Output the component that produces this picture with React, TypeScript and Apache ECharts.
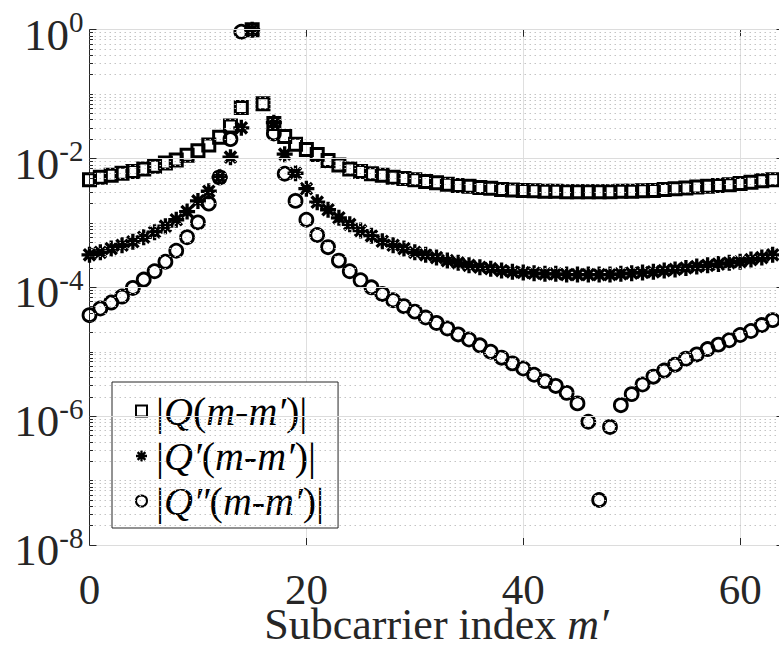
import React, { useEffect, useRef } from "react";
import * as echarts from "echarts";

const subcarrier = [
  0, 1, 2, 3, 4, 5, 6, 7, 8, 9, 10, 11, 12, 13, 14, 15, 16, 17, 18, 19, 20, 21,
  22, 23, 24, 25, 26, 27, 28, 29, 30, 31, 32, 33, 34, 35, 36, 37, 38, 39, 40,
  41, 42, 43, 44, 45, 46, 47, 48, 49, 50, 51, 52, 53, 54, 55, 56, 57, 58, 59,
  60, 61, 62, 63,
];

const qAbs = [
  4.7e-3, 5.1e-3, 5.5e-3, 5.9e-3, 6.3e-3, 6.9e-3, 7.6e-3, 8.5e-3, 9.5e-3, 1.12e-2,
  1.32e-2, 1.62e-2, 2.14e-2, 3.2e-2, 6.2e-2, 1.0, 7.1e-2, 3.5e-2, 2.2e-2, 1.66e-2,
  1.38e-2, 1.15e-2, 9.3e-3, 7.9e-3, 6.9e-3, 6.3e-3, 5.8e-3, 5.5e-3, 5.1e-3, 4.9e-3,
  4.7e-3, 4.4e-3, 4.2e-3, 4.0e-3, 3.8e-3, 3.7e-3, 3.55e-3, 3.45e-3, 3.3e-3, 3.25e-3,
  3.2e-3, 3.15e-3, 3.1e-3, 3.1e-3, 3.05e-3, 3.05e-3, 3.05e-3, 3.05e-3, 3.05e-3, 3.1e-3,
  3.1e-3, 3.15e-3, 3.2e-3, 3.3e-3, 3.4e-3, 3.5e-3, 3.6e-3, 3.7e-3, 3.8e-3, 3.9e-3,
  4.1e-3, 4.3e-3, 4.5e-3, 4.7e-3,
];

const q1Abs = [
  3.2e-4, 3.5e-4, 4.0e-4, 4.5e-4, 5.1e-4, 6.0e-4, 7.2e-4, 8.9e-4, 1.12e-3, 1.5e-3,
  2.2e-3, 3.1e-3, 5.1e-3, 1.05e-2, 3.0e-2, 1.0, null, 3.6e-2, 1.17e-2, 5.9e-3,
  3.4e-3, 2.1e-3, 1.6e-3, 1.2e-3, 9.5e-4, 7.6e-4, 6.3e-4, 5.2e-4, 4.5e-4, 4.0e-4,
  3.5e-4, 3.2e-4, 2.9e-4, 2.6e-4, 2.4e-4, 2.2e-4, 2.05e-4, 1.95e-4, 1.82e-4, 1.74e-4,
  1.7e-4, 1.66e-4, 1.62e-4, 1.62e-4, 1.58e-4, 1.58e-4, 1.58e-4, 1.58e-4, 1.58e-4, 1.62e-4,
  1.66e-4, 1.7e-4, 1.74e-4, 1.82e-4, 1.9e-4, 2.0e-4, 2.1e-4, 2.2e-4, 2.3e-4, 2.4e-4,
  2.5e-4, 2.7e-4, 2.9e-4, 3.2e-4,
];

const q2Abs = [
  3.7e-5, 4.7e-5, 5.8e-5, 7.2e-5, 9.8e-5, 1.32e-4, 1.78e-4, 2.5e-4, 3.7e-4, 6.0e-4,
  1.02e-3, 2.0e-3, 5.1e-3, 2.0e-2, 0.93, null, null, 2.45e-2, 5.8e-3, 2.2e-3,
  1.12e-3, 6.5e-4, 4.2e-4, 2.6e-4, 1.78e-4, 1.29e-4, 1.0e-4, 7.9e-5, 6.3e-5, 5.1e-5,
  4.2e-5, 3.4e-5, 2.8e-5, 2.3e-5, 1.86e-5, 1.55e-5, 1.26e-5, 1.0e-5, 8.1e-6, 6.6e-6,
  5.5e-6, 4.4e-6, 3.5e-6, 2.95e-6, 2.3e-6, 1.58e-6, 8.2e-7, 5.0e-8, 6.8e-7, 1.48e-6,
  2.2e-6, 3.1e-6, 4.1e-6, 5.1e-6, 6.3e-6, 7.8e-6, 9.1e-6, 1.1e-5, 1.29e-5, 1.51e-5,
  1.82e-5, 2.1e-5, 2.6e-5, 3.1e-5,
];

const xTickLabels = [0, 20, 40, 60];
const yMajorDecades = [1, 1e-2, 1e-4, 1e-6, 1e-8];
const yOddDecades = [1e-1, 1e-3, 1e-5, 1e-7];
const yMinorMantissas = [2, 3, 4, 5, 6, 7, 8, 9];
const yMinorDecadeBases = [1e-8, 1e-7, 1e-6, 1e-5, 1e-4, 1e-3, 1e-2, 1e-1];
const seriesNames = ["|Q(m-m′)|", "|Q′(m-m′)|", "|Q″(m-m′)|"];

const FONT = "'Liberation Serif', 'Times New Roman', serif";
const TEXT = "#262626";

const STAR_PATH =
  "path://M9.5 0H14.5V24H9.5Z M0 9.5H24V14.5H0Z M5.28 1.75L22.25 18.72L18.72 22.25L1.75 5.28Z M18.72 1.75L22.25 5.28L5.28 22.25L1.75 18.72Z";

const legendRich: Record<string, string> = {
  "|Q(m-m′)|": "{p||}{i|Q}{n|(}{i|m}{n|-}{i|m′}{n|)|}",
  "|Q′(m-m′)|": "{p||}{i|Q′}{n|(}{i|m}{n|-}{i|m′}{n|)|}",
  "|Q″(m-m′)|": "{p||}{i|Q″}{n|(}{i|m}{n|-}{i|m′}{n|)|}",
};

function toPoints(values: (number | null)[]) {
  const out: [number, number][] = [];
  values.forEach((v, i) => {
    if (v != null) out.push([subcarrier[i], v]);
  });
  return out;
}

export default function App() {
  const ref = useRef<HTMLDivElement>(null);

  useEffect(() => {
    if (!ref.current) return;
    const chart = echarts.init(ref.current, undefined, { renderer: "svg" });

    const minorValues: number[] = [];
    yMinorDecadeBases.forEach((b) =>
      yMinorMantissas.forEach((m) => minorValues.push(m * b))
    );
    const dottedValues = [...minorValues, ...yOddDecades];

    const majorTickLen = 0.645;
    const minorTickLen = 0.32;
    const xMaxVal = 64;

    const tickSegments: any[] = [];
    yMajorDecades.forEach((v) => {
      tickSegments.push([{ coord: [0, v] }, { coord: [majorTickLen, v] }]);
      tickSegments.push([{ coord: [xMaxVal - majorTickLen, v] }, { coord: [xMaxVal, v] }]);
    });
    dottedValues.forEach((v) => {
      tickSegments.push([{ coord: [0, v] }, { coord: [minorTickLen, v] }]);
    });

    const markerItem = { opacity: 1 };

    const option: any = {
      animation: false,
      backgroundColor: "#ffffff",
      grid: {
        left: 89.5,
        right: 1.5,
        top: 29.7,
        bottom: 102,
        containLabel: false,
        outerBoundsMode: "none",
      },
      legend: {
        data: seriesNames,
        orient: "vertical",
        left: 112,
        top: 382,
        selectedMode: false,
        backgroundColor: "#ffffff",
        borderColor: "#262626",
        borderWidth: 1,
        borderRadius: 0,
        padding: [9, 14, 7, 23],
        itemGap: 5,
        itemWidth: 11,
        itemHeight: 11,
        formatter: (name: string) => legendRich[name] || name,
        textStyle: {
          fontFamily: FONT,
          fontSize: 40,
          lineHeight: 40,
          color: "#000",
          rich: {
            p: { fontFamily: FONT, fontSize: 40, lineHeight: 40, color: "#000", padding: [0, 0, 0, 4] },
            n: { fontFamily: FONT, fontSize: 40, lineHeight: 40, color: "#000" },
            i: { fontFamily: FONT, fontSize: 40, lineHeight: 40, color: "#000", fontStyle: "italic" },
          },
        },
      },
      xAxis: [
        {
          type: "value",
          min: 0,
          max: xMaxVal,
          interval: 20,
          position: "bottom",
          axisLine: { show: true, onZero: false, lineStyle: { color: TEXT, width: 1 } },
          axisTick: { show: true, inside: true, length: 7, lineStyle: { color: TEXT } },
          axisLabel: {
            margin: 28,
            fontFamily: FONT,
            fontSize: 43,
            lineHeight: 32,
            color: TEXT,
            showMaxLabel: false,
            formatter: (v: number) => (xTickLabels.includes(v) ? String(v) : ""),
          },
          splitLine: { show: true, lineStyle: { color: "#dfdfdf", width: 1 } },
          name: "Subcarrier index {i|m′}",
          nameLocation: "middle",
          nameGap: 61,
          nameMoveOverlap: false,
          nameTextStyle: {
            fontFamily: FONT,
            fontSize: 44,
            lineHeight: 36,
            color: TEXT,
            rich: {
              i: { fontFamily: FONT, fontSize: 44, lineHeight: 36, color: TEXT, fontStyle: "italic" },
            },
          },
        },
        {
          type: "value",
          min: 0,
          max: xMaxVal,
          interval: 20,
          position: "top",
          axisLine: { show: true, onZero: false, lineStyle: { color: TEXT, width: 1 } },
          axisTick: { show: true, inside: true, length: 7, lineStyle: { color: TEXT } },
          axisLabel: { show: false },
          splitLine: { show: false },
        },
      ],
      yAxis: [
        {
          type: "log",
          logBase: 10,
          min: 1e-8,
          max: 1,
          position: "left",
          axisLine: { show: true, onZero: false, lineStyle: { color: TEXT, width: 1 } },
          axisTick: { show: false },
          splitLine: { show: false },
          axisLabel: {
            margin: 6,
            formatter: (v: number) => {
              const e = Math.round(Math.log10(v));
              if (Math.abs(e) % 2 !== 0) return "";
              return `{b|10}{s|${e === 0 ? "0" : e}}`;
            },
            rich: {
              b: { fontFamily: FONT, fontSize: 45, lineHeight: 48, color: TEXT, padding: [10, 0, 0, 0] },
              s: { fontFamily: FONT, fontSize: 29, lineHeight: 28, color: TEXT, verticalAlign: "top", padding: [2, 0, 0, 0] },
            },
          },
        },
        {
          type: "log",
          logBase: 10,
          min: 1e-8,
          max: 1,
          position: "right",
          axisLine: { show: true, onZero: false, lineStyle: { color: TEXT, width: 1 } },
          axisTick: { show: false },
          axisLabel: { show: false },
          splitLine: { show: false },
        },
      ],
      series: [
        {
          name: "__grid",
          type: "scatter",
          data: [],
          silent: true,
          z: 1,
          markLine: {
            silent: true,
            precision: 20,
            symbol: ["none", "none"],
            label: { show: false },
            animation: false,
            data: [
              ...dottedValues.map((v) => ({
                yAxis: v,
                lineStyle: { color: "#c4c4c4", type: [1.5, 3.5], width: 1 },
              })),
              ...yMajorDecades.map((v) => ({
                yAxis: v,
                lineStyle: { color: "#dcdcdc", type: "solid", width: 1 },
              })),
            ],
          },
        },
        {
          name: "__ticks",
          type: "scatter",
          data: [],
          silent: true,
          z: 3,
          markLine: {
            silent: true,
            precision: 20,
            symbol: ["none", "none"],
            label: { show: false },
            animation: false,
            lineStyle: { color: TEXT, type: "solid", width: 1 },
            data: tickSegments,
          },
        },
        {
          name: seriesNames[0],
          type: "scatter",
          data: toPoints(qAbs),
          symbol: "rect",
          symbolSize: 12,
          z: 4,
          itemStyle: { ...markerItem, color: "transparent", borderColor: "#000", borderWidth: 3 },
        },
        {
          name: seriesNames[1],
          type: "scatter",
          data: toPoints(q1Abs),
          symbol: STAR_PATH,
          symbolSize: 16,
          z: 4,
          itemStyle: { ...markerItem, color: "#000", borderWidth: 0 },
        },
        {
          name: seriesNames[2],
          type: "scatter",
          data: toPoints(q2Abs),
          symbol: "circle",
          symbolSize: 13,
          z: 4,
          itemStyle: { ...markerItem, color: "transparent", borderColor: "#000", borderWidth: 2.8 },
        },
      ],
    };

    chart.setOption(option);
    return () => chart.dispose();
  }, []);

  return (
    <div
      style={{
        position: "fixed",
        left: 0,
        top: 0,
        width: 779,
        height: 647,
        overflow: "hidden",
        background: "#fff",
      }}
    >
      <div ref={ref} style={{ width: 785, height: 647 }} />
    </div>
  );
}
